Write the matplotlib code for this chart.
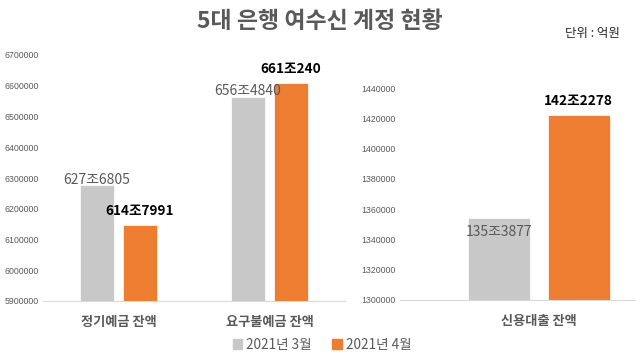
import matplotlib
matplotlib.use("Agg")
import matplotlib.pyplot as plt
from matplotlib.patches import Rectangle

plt.rcParams['font.family'] = ['Noto Sans CJK KR', 'DejaVu Sans']

# 단위: 억원
deposit_cats = ["정기예금 잔액", "요구불예금 잔액"]
deposit_mar = [6276805, 6564840]
deposit_apr = [6147991, 6610240]
loan_cats = ["신용대출 잔액"]
loan_mar = [1353877]
loan_apr = [1422278]
series_names = ["2021년 3월", "2021년 4월"]

GRAY = "#C8C8C8"
ORANGE = "#ED7D31"
TXT = "#595959"
W, H = 640, 358


def fmt(v):
    return f"{v // 10000}조{v % 10000}"


def ax_rect(x0, x1, y_top, y_bot):
    return [x0 / W, (H - y_bot) / H, (x1 - x0) / W, (y_bot - y_top) / H]


def style(ax, ticks):
    for s in ["top", "right", "left"]:
        ax.spines[s].set_visible(False)
    ax.spines["bottom"].set_color("#D9D9D9")
    ax.set_yticks(ticks)
    ax.set_yticklabels([str(t) for t in ticks], fontsize=6.3, color=TXT,
                       family=['Liberation Sans', 'DejaVu Sans'])
    ax.tick_params(axis="y", length=0, pad=3)
    ax.tick_params(axis="x", length=0, pad=10)
    for lab in ax.get_xticklabels():
        lab.set_fontsize(9.5)
        lab.set_fontweight("bold")
        lab.set_color(TXT)


fig = plt.figure(figsize=(6.4, 3.58), dpi=100)

# left: deposits
ax1 = fig.add_axes(ax_rect(43, 345, 55, 301))
x = range(len(deposit_cats))
bw, off = 0.22, 0.142
b1 = ax1.bar([i - off for i in x], deposit_mar, bw, color=GRAY, edgecolor="white", linewidth=0.5)
b2 = ax1.bar([i + off for i in x], deposit_apr, bw, color=ORANGE, edgecolor="white", linewidth=0.5)
ax1.set_xlim(-0.5, 1.5)
ax1.set_ylim(5900000, 6700000)
ax1.set_xticks(list(x))
ax1.set_xticklabels(deposit_cats)
style(ax1, list(range(5900000, 6700001, 100000)))
for r, v in zip(b1, deposit_mar):
    ax1.annotate(fmt(v), (r.get_x() + r.get_width() / 2, v), xytext=(0, -1),
                 textcoords="offset points", ha="center", va="bottom",
                 fontsize=10, color=TXT)
for r, v in zip(b2, deposit_apr):
    ax1.annotate(fmt(v), (r.get_x() + r.get_width() / 2, v), xytext=(0, 5),
                 textcoords="offset points", ha="center", va="bottom",
                 fontsize=9.8, fontweight="bold", color="black")

# right: credit loans
ax2 = fig.add_axes(ax_rect(400, 635, 88, 300))
bw2, off2 = 0.323, 0.207
c1 = ax2.bar([-off2], loan_mar, bw2, color=GRAY, edgecolor="white", linewidth=0.5)
c2 = ax2.bar([off2], loan_apr, bw2, color=ORANGE, edgecolor="white", linewidth=0.5)
ax2.set_xlim(-0.724, 0.5)
ax2.set_ylim(1300000, 1440000)
ax2.set_xticks([0])
ax2.set_xticklabels(loan_cats)
style(ax2, list(range(1300000, 1440001, 20000)))
for r, v in zip(c1, loan_mar):
    ax2.annotate(fmt(v), (r.get_x() + r.get_width() / 2, v), xytext=(0, -5),
                 textcoords="offset points", ha="center", va="top",
                 fontsize=10, color=TXT)
for r, v in zip(c2, loan_apr):
    ax2.annotate(fmt(v), (r.get_x() + r.get_width() / 2, v), xytext=(0, 5),
                 textcoords="offset points", ha="center", va="bottom",
                 fontsize=9.8, fontweight="bold", color="black")

fig.text(0.5, 1 - 22 / H, "5대 은행 여수신 계정 현황", ha="center", va="center",
         fontsize=16.5, fontweight="bold", color=TXT)
fig.text(620 / W, 1 - 33 / H, "단위 : 억원", ha="right", va="center",
         fontsize=9, color="#262626")

# legend
handles = [Rectangle((0, 0), 1, 1, color=GRAY), Rectangle((0, 0), 1, 1, color=ORANGE)]
fig.legend(handles, series_names, loc="center", bbox_to_anchor=(322 / W, 1 - 345 / H),
           ncol=2, frameon=False, fontsize=9.8, labelcolor=TXT,
           handlelength=0.7, handleheight=0.7, handletextpad=0.3, columnspacing=1.5)

fig.savefig("out.png", dpi=100)
